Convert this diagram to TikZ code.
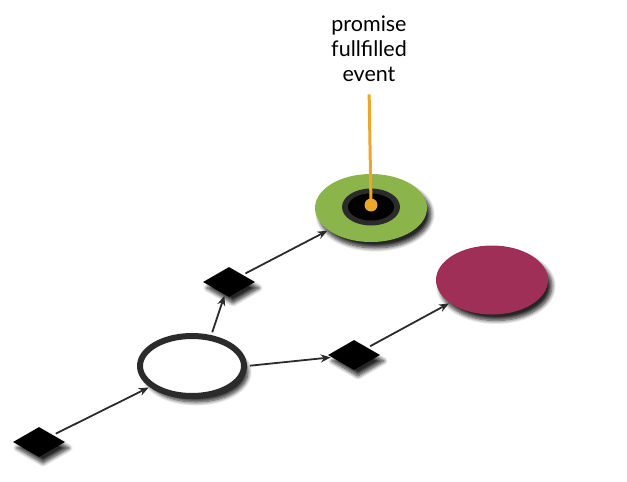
\documentclass[tikz,border=0pt]{standalone}
\usepackage{fontspec}
\setmainfont{Lato}
\usepackage{xcolor}
\usetikzlibrary{arrows.meta}
\usetikzlibrary{shapes.geometric}
\usetikzlibrary{shadows.blur}

\definecolor{ringgray}{HTML}{2B2B2B}
\definecolor{fulfgreen}{HTML}{8BB54B}
\definecolor{rejmagenta}{HTML}{A02F58}
\definecolor{eventorange}{HTML}{EAA82A}

\tikzset{
  shade/.style={blur shadow={shadow xshift=4pt, shadow yshift=-6pt, shadow blur radius=4pt, shadow blur steps=8, shadow opacity=85}},
  gate/.style={diamond, fill=black, inner sep=0pt, minimum width=52pt, minimum height=30pt, shade},
  flow/.style={-{Stealth[length=10pt, width=8pt]}, line width=1.8pt, draw=ringgray, shorten <=3pt, shorten >=1pt},
}

\begin{document}
\begin{tikzpicture}[x=1pt, y=-1pt]
  \useasboundingbox (0,0) rectangle (627,482);

  % states
  \node[ellipse, draw=ringgray, line width=6pt, fill=white, minimum width=104pt, minimum height=60pt, inner sep=0pt, shade] (pending) at (192,366) {};
  \node[ellipse, fill=fulfgreen, minimum width=112pt, minimum height=68pt, inner sep=0pt, shade] (fulfilled) at (371,208) {};
  \node[ellipse, fill=rejmagenta, minimum width=112pt, minimum height=69pt, inner sep=0pt, shade] (rejected) at (492,280) {};

  % hole in the fulfilled state
  \node[ellipse, fill=ringgray, minimum width=58pt, minimum height=37pt, inner sep=0pt] (hole) at (371,207) {};
  \node[ellipse, fill=black, minimum width=46pt, minimum height=27pt, inner sep=0pt] (holein) at (371,207) {};
  \node[circle, fill=eventorange, minimum size=13pt, inner sep=0pt] (dot) at (371,205) {};

  % transitions
  \node[gate] (start) at (39,442) {};
  \node[gate] (resolve) at (229,282) {};
  \node[gate] (reject) at (354,355) {};

  \draw[flow] (start) -- (pending);
  \draw[flow] (pending.58) -- (resolve);
  \draw[flow] (resolve) -- (fulfilled);
  \draw[flow] (pending.east) -- (reject);
  \draw[flow] (reject) -- (rejected);

  % label
  \node[align=center, font=\fontsize{21.5}{25}\selectfont] (label) at (369,49) {promise\\fullfilled\\event};
  \draw[eventorange, line width=3pt, shorten <=9pt] (label.south) -- (dot.center);
\end{tikzpicture}
\end{document}
